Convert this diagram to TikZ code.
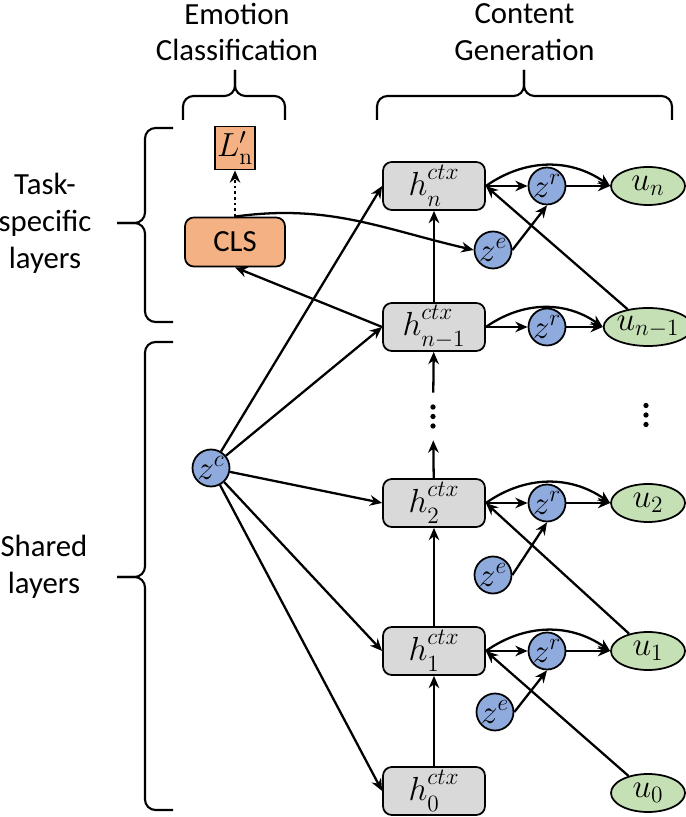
\RequirePackage{fix-cm}
\documentclass[tikz,border=0pt]{standalone}
\usepackage{amsmath}
\usepackage[no-math]{fontspec}
\setmainfont{Carlito}
\usetikzlibrary{arrows.meta,shapes.geometric}

\definecolor{ctxgray}{HTML}{D9D9D9}
\definecolor{clsorange}{HTML}{F4B183}
\definecolor{latblue}{HTML}{8FAADC}
\definecolor{uttgreen}{HTML}{C5E0B4}
\newcommand{\hctx}[1]{h^{\raisebox{2pt}{$\scriptstyle ctx$}}_{\raisebox{-2pt}{$\scriptstyle #1$}}}

\begin{document}
\begin{tikzpicture}[> = {Stealth[length=7pt,width=6pt]},
  mathfont/.style={font=\fontsize{19}{22}\selectfont},
  hbox/.style={draw,line width=1pt,fill=ctxgray,rounded corners=5pt,minimum width=2.04cm,minimum height=0.96cm,inner sep=0pt,mathfont},
  zcirc/.style={circle,draw,line width=1pt,fill=latblue,minimum size=0.74cm,inner sep=0pt,mathfont},
  uell/.style={ellipse,draw,line width=1pt,fill=uttgreen,minimum width=1.48cm,minimum height=0.76cm,inner sep=0pt,mathfont},
  clsbox/.style={draw,line width=1pt,fill=clsorange,rounded corners=5pt,minimum width=2cm,minimum height=0.98cm,font=\fontsize{17.5}{21}\selectfont},
  lossbox/.style={draw,line width=1pt,fill=clsorange,minimum width=0.8cm,minimum height=0.86cm,inner sep=0pt,mathfont},
  dotsgap/.style={minimum height=0.94cm,minimum width=0.3cm,inner sep=0pt},
  lbl/.style={align=center,font=\fontsize{17.5}{21}\selectfont},
  arr/.style={->,line width=1.3pt},
  bracel/.style={line width=1.2pt,rounded corners=6pt}]
\useasboundingbox (0,0) rectangle (13.70,16.34);

% context states
\node[hbox] (hn)  at (8.68,12.62) {$\hctx{n}$};
\node[hbox] (hn1) at (8.68,9.80)  {$\hctx{n-1}$};
\node[dotsgap] (hdots) at (8.66,8.01) {};
\node[hbox] (h2)  at (8.68,6.28)  {$\hctx{2}$};
\node[hbox] (h1)  at (8.68,3.32)  {$\hctx{1}$};
\node[hbox] (h0)  at (8.68,0.52)  {$\hctx{0}$};

% latent variables
\node[zcirc] (zc)   at (4.22,6.98)  {$z^{c}$};
\node[zcirc] (zrn)  at (10.94,12.62) {$z^{r}$};
\node[zcirc] (zrn1) at (10.94,9.80)  {$z^{r}$};
\node[zcirc] (zr2)  at (10.94,6.28)  {$z^{r}$};
\node[zcirc] (zr1)  at (10.94,3.32)  {$z^{r}$};
\node[zcirc] (zen)  at (9.86,11.34)  {$z^{e}$};
\node[zcirc] (ze2)  at (9.86,4.84)   {$z^{e}$};
\node[zcirc] (ze1)  at (9.90,2.10)   {$z^{e}$};

% utterances
\node[uell] (un)  at (12.96,12.62) {$u_{n}$};
\node[uell] (un1) at (12.96,9.80)  {$u_{n-1}$};
\node[dotsgap] (udots) at (12.92,8.04) {};
\node[uell] (u2)  at (12.96,6.28)  {$u_{2}$};
\node[uell] (u1)  at (12.96,3.32)  {$u_{1}$};
\node[uell] (u0)  at (12.96,0.48)  {$u_{0}$};

% vertical dots
\foreach \d in {hdots,udots}
  \foreach \k in {-0.19,0,0.19} \fill ([yshift=\k cm]\d.center) circle (1.5pt);

% emotion classification
\node[clsbox] (cls)   at (4.70,11.50) {CLS};
\node[lossbox] (loss) at (4.70,13.38) {$L'_{\mathrm{n}}$};

\draw[arr] (h0) -- (h1);
\draw[arr] (h1) -- (h2);
\draw[arr] (h2) -- (hdots);
\draw[arr] (hdots) -- (hn1);
\draw[arr] (hn1) -- (hn);

\foreach \i in {n,n1,2,1,0} \draw[arr] (zc) -- (h\i.west);
\foreach \i in {n,n1,2,1} {
  \draw[arr] (h\i.east) -- (zr\i);
  \draw[arr] (zr\i) -- (u\i);
  \draw[arr] (h\i.east) to[bend left=35] (u\i.west);
}
\foreach \i in {n,2,1} \draw[arr] (ze\i.east) -- (zr\i.south);
\draw[arr] (un1) -- (hn.east);
\draw[arr] (u1) -- (h2.east);
\draw[arr] (u0) -- (h1.east);

\draw[arr] (hn1.west) -- (cls.south);
\draw[arr,dash pattern=on 1.6pt off 1.6pt] (cls) -- (loss);
\draw[arr] (cls.north) to[out=8,in=167] (zen.west);

% braces and their labels
\node[lbl] (emo)    at (4.74,15.70)  {Emotion\\Classification};
\node[lbl] (gen)    at (10.49,15.70) {Content\\Generation};
\node[lbl] (task)   at (0.90,11.88)  {Task-\\specific\\layers};
\node[lbl] (shared) at (0.88,5.00)   {Shared\\layers};

\draw[bracel] (3.66,13.94) -- (3.66,14.42) -- (4.70,14.42) -- (4.70,14.94);
\draw[bracel] (5.70,13.94) -- (5.70,14.42) -- (4.70,14.42) -- (4.70,14.94);
\draw[bracel] (7.54,13.94) -- (7.54,14.42) -- (10.48,14.42) -- (10.48,14.94);
\draw[bracel] (13.44,13.94) -- (13.44,14.42) -- (10.48,14.42) -- (10.48,14.94);
\draw[bracel] (3.46,13.78) -- (2.90,13.78) -- (2.90,11.88) -- (2.34,11.88);
\draw[bracel] (3.46,9.90) -- (2.90,9.90) -- (2.90,11.88) -- (2.34,11.88);
\draw[bracel] (3.46,9.50) -- (2.90,9.50) -- (2.90,4.80) -- (2.34,4.80);
\draw[bracel] (3.46,0.14) -- (2.90,0.14) -- (2.90,4.80) -- (2.34,4.80);
\end{tikzpicture}
\end{document}
